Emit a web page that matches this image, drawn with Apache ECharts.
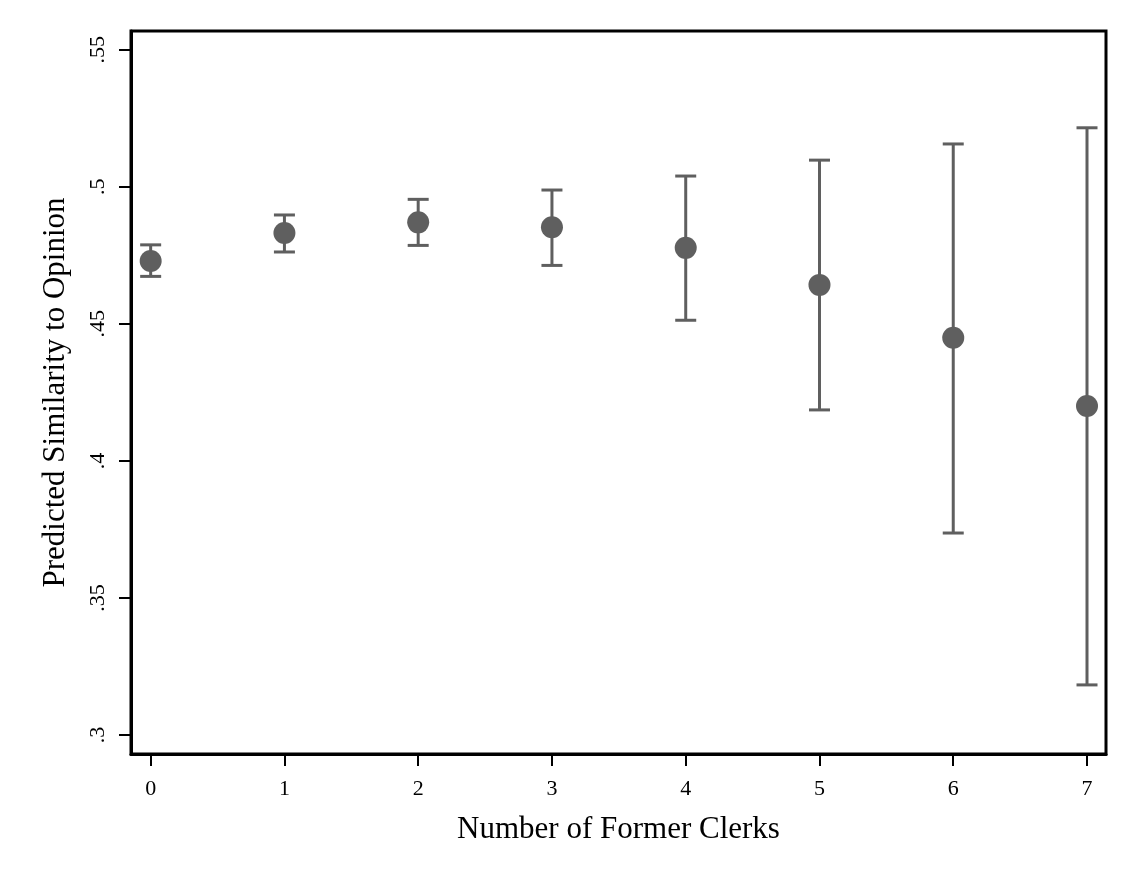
<!DOCTYPE html>
<html>
<head>
<meta charset="utf-8">
<script src="https://cdn.jsdelivr.net/npm/echarts@6/dist/echarts.min.js"></script>
<style>html,body{margin:0;padding:0;background:#fff}#c{width:1133px;height:882px}</style>
</head>
<body>
<div id="c"></div>
<script>
const clerks = [0, 1, 2, 3, 4, 5, 6, 7];
const predicted = [0.4729, 0.4831, 0.4870, 0.4852, 0.4777, 0.4642, 0.4449, 0.4200];
const upper = [0.4788, 0.4897, 0.4954, 0.4988, 0.5039, 0.5097, 0.5156, 0.5215];
const lower = [0.4673, 0.4762, 0.4786, 0.4713, 0.4513, 0.4186, 0.3737, 0.3183];
const yTicks = [0.30, 0.35, 0.40, 0.45, 0.50, 0.55];
const xTicks = [0, 1, 2, 3, 4, 5, 6, 7];
const xTitle = 'Number of Former Clerks';
const yTitle = 'Predicted Similarity to Opinion';

const FONT = "'Liberation Serif', 'Times New Roman', serif";
const COL = '#5f5f5f';
const fmtY = v => {
  let s = (Math.round(v * 100) / 100).toString();
  return s.replace(/^0/, '');
};

const chart = echarts.init(document.getElementById('c'));
chart.setOption({
  animation: false,
  backgroundColor: '#fff',
  grid: { left: 131, right: 27, top: 31, bottom: 128, show: true, borderColor: '#000', borderWidth: 3 },
  xAxis: {
    type: 'value', min: -0.147, max: 7.142,
    name: xTitle, nameLocation: 'middle', nameGap: 60,
    nameTextStyle: { fontFamily: FONT, fontSize: 31, color: '#000' },
    splitLine: { show: false },
    axisLine: { show: true, onZero: false, lineStyle: { color: '#000', width: 3 } },
    axisTick: { show: true, customValues: xTicks, length: 12, lineStyle: { color: '#000', width: 2 } },
    axisLabel: { customValues: xTicks, margin: 24, fontFamily: FONT, fontSize: 22, color: '#000' }
  },
  yAxis: {
    type: 'value', min: 0.2931, max: 0.5568,
    name: yTitle, nameLocation: 'middle', nameGap: 60, nameRotate: 90,
    nameTextStyle: { fontFamily: FONT, fontSize: 31, color: '#000' },
    splitLine: { show: false },
    axisLine: { show: true, onZero: false, lineStyle: { color: '#000', width: 3 } },
    axisTick: { show: true, customValues: yTicks, length: 12, lineStyle: { color: '#000', width: 2 } },
    axisLabel: { customValues: yTicks, rotate: 90, margin: 22, fontFamily: FONT, fontSize: 22, color: '#000', formatter: fmtY }
  },
  series: [
    {
      type: 'custom',
      data: clerks.map((x, i) => [x, lower[i], upper[i]]),
      renderItem: function (params, api) {
        const x = api.value(0);
        const lo = api.coord([x, api.value(1)]);
        const hi = api.coord([x, api.value(2)]);
        const hw = 10.5;
        const st = { stroke: COL, lineWidth: 3 };
        return {
          type: 'group',
          children: [
            { type: 'line', shape: { x1: lo[0], y1: lo[1], x2: hi[0], y2: hi[1] }, style: st },
            { type: 'line', shape: { x1: lo[0] - hw, y1: lo[1], x2: lo[0] + hw, y2: lo[1] }, style: st },
            { type: 'line', shape: { x1: hi[0] - hw, y1: hi[1], x2: hi[0] + hw, y2: hi[1] }, style: st }
          ]
        };
      },
      z: 2
    },
    {
      type: 'scatter',
      data: clerks.map((x, i) => [x, predicted[i]]),
      symbol: 'circle', symbolSize: 22,
      itemStyle: { color: COL, opacity: 1 },
      z: 3
    }
  ]
});
</script>
</body>
</html>
